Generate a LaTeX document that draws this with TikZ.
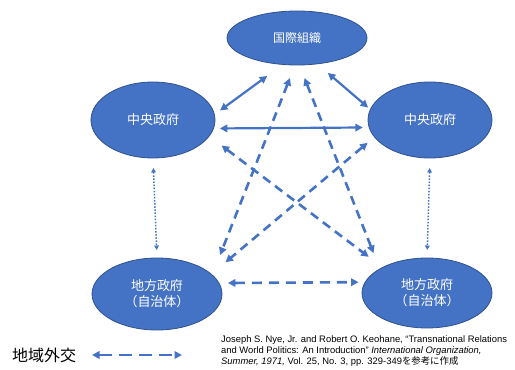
\documentclass[tikz,border=0pt]{standalone}
\usepackage{fontspec}
\setmainfont{Liberation Sans}
\newfontfamily\jp{Noto Sans CJK JP}
\usetikzlibrary{arrows.meta,shapes.geometric}
\definecolor{officeblue}{HTML}{4472C4}
\definecolor{edgeblue}{HTML}{2F528F}

\begin{document}
\begin{tikzpicture}[x=1pt,y=1pt,
  actor/.style={ellipse, fill=officeblue, draw=edgeblue, line width=0.8pt, text=white, align=center, inner sep=0pt, outer sep=0pt, font=\jp\fontsize{13}{16}\selectfont},
  link/.style={officeblue, line width=2.2pt, {Triangle[length=7.5pt,width=7.5pt]}-{Triangle[length=7.5pt,width=7.5pt]}},
  translink/.style={link, line width=2.6pt, dash pattern=on 9pt off 6pt},
  locallink/.style={officeblue, line width=1.5pt, dash pattern=on 1.5pt off 1.6pt, {Triangle[length=4.5pt,width=4.5pt]}-{Triangle[length=4.5pt,width=4.5pt]}}]
\useasboundingbox (0,0) rectangle (515,370);

% Actors
\node[actor, minimum width=140pt, minimum height=54pt, font=\jp\fontsize{12}{14}\selectfont] (io) at (297,332) {国際組織};
\node[actor, minimum width=124pt, minimum height=76pt] (natl) at (153,250) {中央政府};
\node[actor, minimum width=124pt, minimum height=76pt] (natr) at (430,250) {中央政府};
\node[actor, minimum width=130pt, minimum height=72pt] (locl) at (157,76) {地方政府\\（自治体）};
\node[actor, minimum width=130pt, minimum height=70pt] (locr) at (427,77) {地方政府\\（自治体）};

% Solid arrows
\draw[link, shorten <=7pt, shorten >=19.5pt] (natl.5.5) -- (io.242.6);
\draw[link, shorten <=14pt, shorten >=3pt] (io.308.5) -- (natr.170.5);
\draw[link, shorten <=6.4pt, shorten >=6.4pt] (natl.352.5) -- (natr.187.5);

% Transnational arrows
\draw[translink, shorten <=14pt, shorten >=21.5pt] (io.266.7) -- (locl.19);
\draw[translink, shorten <=14pt, shorten >=17pt] (io.275.7) -- (locr.153.5);
\draw[translink, shorten <=15.6pt, shorten >=17.5pt] (natl.344.7) -- (locr.150.7);
\draw[translink, shorten <=9pt, shorten >=18.5pt] (natr.197.4) -- (locl.20.6);

% Dotted arrows
\draw[locallink, shorten <=10pt, shorten >=8pt] (natl.south) -- (locl.north);
\draw[locallink, shorten <=10pt, shorten >=8pt] (natr.south) -- (locr.north);

% Regional diplomacy
\draw[translink, dash pattern=on 10pt off 7pt, shorten <=9pt, shorten >=6.7pt] (locl.10.1) -- (locr.170.9);

% Legend
\node[anchor=west, inner sep=0pt, font=\jp\fontsize{16}{18}\selectfont] (legtext) at (12,15) {地域外交};
\coordinate (lega) at (92,15);
\coordinate (legb) at (182,15);
\draw[translink, dash pattern=on 13pt off 7pt] (lega) -- (legb);

% Source
\node[anchor=north west, inner sep=0pt, align=left, font=\fontsize{9.4}{11}\selectfont] (source) at (221,35)
  {Joseph S. Nye, Jr. and Robert O. Keohane, “Transnational Relations\\
   and World Politics: An Introduction” \textit{International Organization,}\\
   \textit{Summer, 1971,} Vol. 25, No. 3, pp. 329-349{\jp を参考に作成}};
\end{tikzpicture}
\end{document}
